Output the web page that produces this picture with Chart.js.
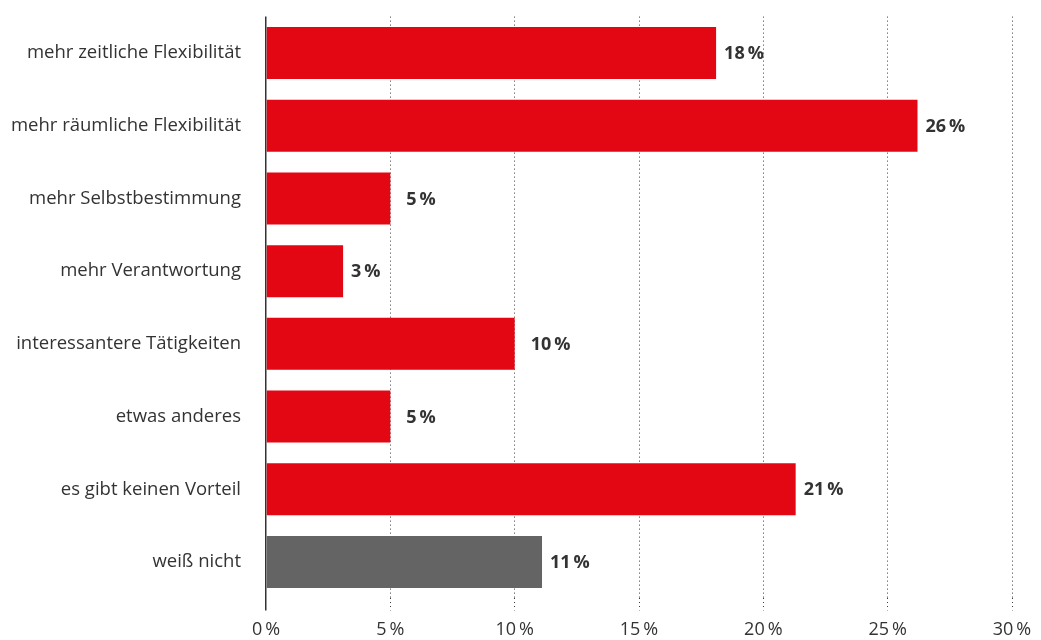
<!DOCTYPE html>
<html>
<head>
<meta charset="utf-8">
<script src="https://cdn.jsdelivr.net/npm/chart.js@4"></script>
<style>
  html, body { margin: 0; padding: 0; background: #fff; }
  #wrap { width: 1041px; height: 640px; }
</style>
</head>
<body>
<div id="wrap"><canvas id="chart"></canvas></div>
<script>
// Kategorien und Werte (in %)
const categories = [
  'mehr zeitliche Flexibilität',
  'mehr räumliche Flexibilität',
  'mehr Selbstbestimmung',
  'mehr Verantwortung',
  'interessantere Tätigkeiten',
  'etwas anderes',
  'es gibt keinen Vorteil',
  'weiß nicht'
];
const barValues = [18.1, 26.2, 5.0, 3.1, 10.0, 5.0, 21.3, 11.1];
const valueLabels = ['18', '26', '5', '3', '10', '5', '21', '11'];
const xTicks = [0, 5, 10, 15, 20, 25, 30];

const RED = '#e30613';
const GREY = '#646464';
const TEXT = '#333333';
const GRID = '#3a3a3a';
const FONT = "'Open Sans', 'Noto Sans', sans-serif";
const THIN = '\u2009';

// Werte rechts neben den Balken (weiter weg, wenn eine Gitterlinie direkt daneben liegt)
const valueLabelPlugin = {
  id: 'valueLabels',
  afterDatasetsDraw(chart) {
    const ctx = chart.ctx;
    const meta = chart.getDatasetMeta(0);
    const xScale = chart.scales.x;
    const gridX = xTicks.map(v => xScale.getPixelForValue(v));
    ctx.save();
    ctx.font = `bold 18px ${FONT}`;
    ctx.fillStyle = TEXT;
    ctx.textBaseline = 'middle';
    ctx.textAlign = 'left';
    meta.data.forEach((bar, i) => {
      const nearGrid = gridX.some(g => Math.abs(g - bar.x) < 3);
      ctx.fillText(valueLabels[i] + THIN + '%', bar.x + (nearGrid ? 16 : 8), bar.y + 1);
    });
    ctx.restore();
  }
};

new Chart(document.getElementById('chart'), {
  type: 'bar',
  data: {
    labels: categories,
    datasets: [{
      data: barValues,
      backgroundColor: barValues.map((_, i) => i === categories.length - 1 ? GREY : RED),
      borderWidth: 0,
      barPercentage: 0.715,
      categoryPercentage: 1.0
    }]
  },
  options: {
    indexAxis: 'y',
    responsive: true,
    maintainAspectRatio: false,
    animation: false,
    layout: { padding: { top: 16.6, right: 29, left: 0, bottom: 0 } },
    plugins: {
      legend: { display: false },
      tooltip: { enabled: false }
    },
    scales: {
      x: {
        min: 0,
        max: 30,
        afterBuildTicks: axis => { axis.ticks = xTicks.map(v => ({ value: v })); },
        afterFit: axis => { axis.height = 41.6; axis.paddingLeft = 0; axis.paddingRight = 0; },
        ticks: {
          color: TEXT,
          font: { family: FONT, size: 18 },
          padding: 9,
          maxRotation: 0,
          callback: v => v + THIN + '%'
        },
        grid: {
          color: c => c.index === 0 ? '#333333' : GRID,
          lineWidth: c => c.index === 0 ? 1.5 : 1,
          drawTicks: true,
          tickLength: 12,
          tickColor: c => c.index === 0 ? '#333333' : GRID,
          tickWidth: c => c.index === 0 ? 1.5 : 1,
          tickBorderDash: c => c.index === 0 ? [] : [1, 3]
        },
        border: {
          display: false,
          dash: c => c.index === 0 ? [] : [1, 3]
        }
      },
      y: {
        afterFit: axis => { axis.width = 266; axis.paddingTop = 0; axis.paddingBottom = 0; },
        ticks: {
          color: TEXT,
          font: { family: FONT, size: 18.5 },
          padding: 17
        },
        grid: { display: false },
        border: { display: false }
      }
    }
  },
  plugins: [valueLabelPlugin]
});
</script>
</body>
</html>
